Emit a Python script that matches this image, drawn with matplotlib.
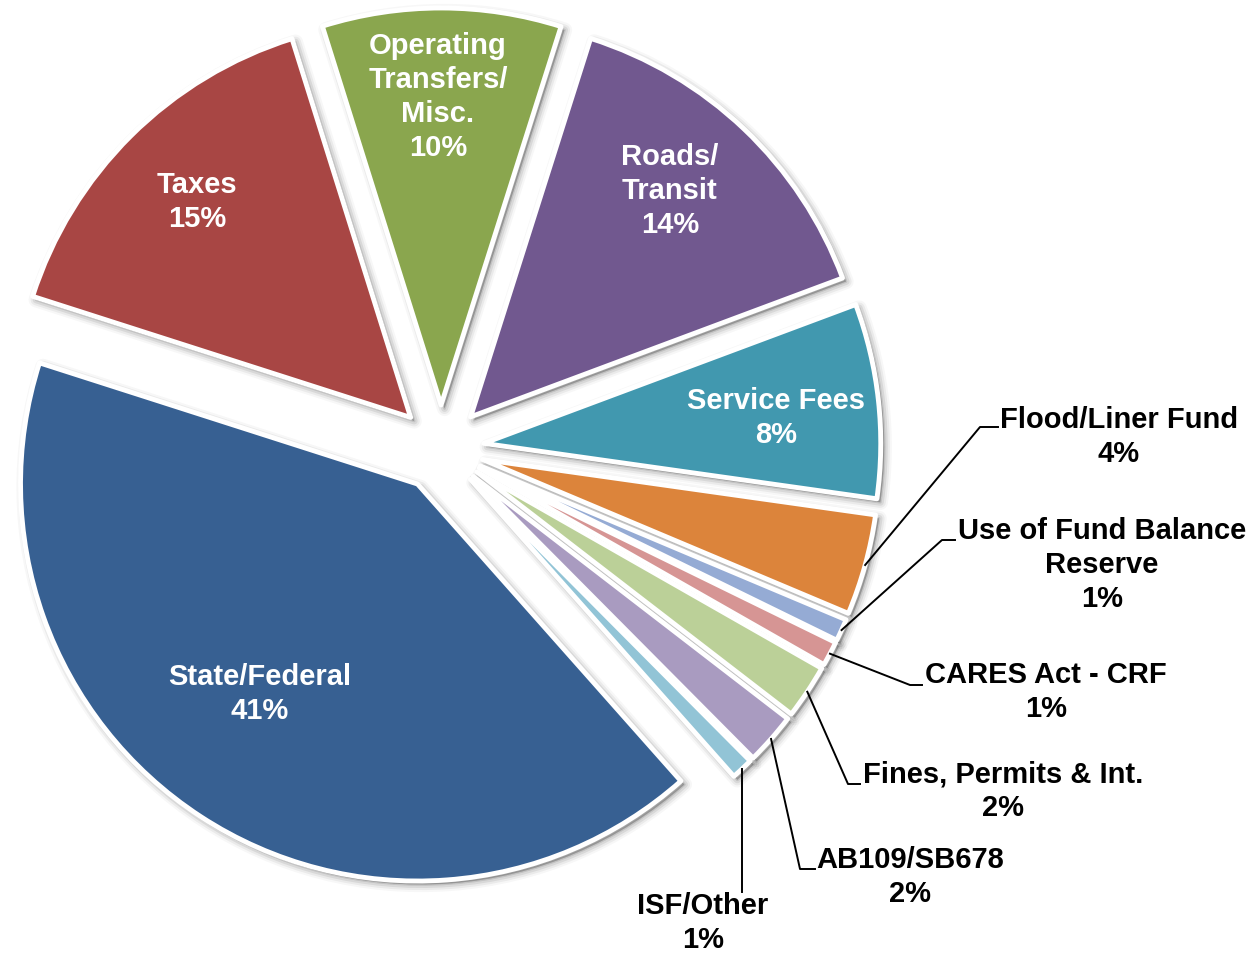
import matplotlib
matplotlib.use("Agg")
import matplotlib.pyplot as plt
import numpy as np

# ---------------- data ----------------
categories = ["Operating\nTransfers/\nMisc.", "Roads/\nTransit", "Service Fees",
              "Flood/Liner Fund", "Use of Fund Balance\nReserve", "CARES Act - CRF",
              "Fines, Permits & Int.", "AB109/SB678", "ISF/Other",
              "State/Federal", "Taxes"]
values = [9.7, 14.4, 7.9, 4.1, 0.9, 1.0, 2.2, 2.1, 0.9, 41.4, 15.2]
colors = ["#8AA64E", "#71588F", "#4198AF", "#DC843B", "#95ABD4", "#D69594",
          "#BBD098", "#A99BC0", "#92C4D6", "#376092", "#A84644"]
inside = [True, True, True, False, False, False, False, False, False, True, True]

# ---------------- layout (pixels in a 1260x954 canvas) ----------------
W, H = 1260, 954
CX, CY, R = 441, 449, 397          # pie centre / radius in pixels


def px(x, y):
    return (x - CX) / R, (CY - y) / R


label_pos = [(438, 97), (670, 191), (776, 418), (1119, 437), (1102, 565),
             (1046, 692), (1003, 791), (910, 877), (703, 923), (260, 694), (197, 202)]
# leader elbow / end points (pixels) for outside labels
leader = {3: [(980, 428), (998, 428)],
          4: [(942, 541), (955, 541)],
          5: [(910, 686), (922, 686)],
          6: [(848, 785), (860, 785)],
          7: [(800, 870), (815, 870)],
          8: [None, (None, 893)]}

fig = plt.figure(figsize=(W / 100, H / 100), dpi=100)
ax = fig.add_axes([0, 0, 1, 1])

explode = [43 / R] * len(values)
start = 107.4

# soft shadow layers
off = 3.5 / R
for k, (lw, a) in enumerate([(2, 0.10), (5, 0.07), (8, 0.05), (11, 0.03)]):
    sw, _ = ax.pie(values, explode=explode, startangle=start, counterclock=False,
                   colors=["#000000"] * len(values), center=(off, -off),
                   wedgeprops=dict(linewidth=lw, edgecolor="#000000", alpha=a,
                                   joinstyle="round"))
    for w in sw:
        w.set_zorder(1)

wedges, _ = ax.pie(values, explode=explode, startangle=start, counterclock=False,
                   colors=colors,
                   wedgeprops=dict(linewidth=3.5, edgecolor="white", joinstyle="round"))
for w in wedges:
    w.set_zorder(3)

ax.set_xlim(-CX / R, (W - CX) / R)
ax.set_ylim(-(H - CY) / R, CY / R)
ax.set_aspect("equal", adjustable="datalim")
ax.set_position([0, 0, 1, 1])
ax.axis("off")

total = sum(values)
for i, (w, cat, v) in enumerate(zip(wedges, categories, values)):
    pct = f"{round(100 * v / total):.0f}%"
    x, y = px(*label_pos[i])
    ax.text(x, y, f"{cat}\n{pct}", ha="center", va="center",
            color="white" if inside[i] else "black", fontsize=21,
            fontweight="bold", family=["Liberation Sans", "DejaVu Sans"],
            linespacing=1.27, zorder=5)
    if i in leader:
        mid = np.deg2rad((w.theta1 + w.theta2) / 2)
        sx = w.center[0] + w.r * np.cos(mid)
        sy = w.center[1] + w.r * np.sin(mid)
        pts = [(sx, sy)]
        elbow, end = leader[i]
        if elbow is None:
            pts.append((sx, px(0, end[1])[1]))
        else:
            pts.append(px(*elbow))
            pts.append(px(*end))
        xs, ys = zip(*pts)
        ax.plot(xs, ys, color="black", lw=1.4, zorder=4)

fig.savefig("out.png", dpi=100, facecolor="white")
